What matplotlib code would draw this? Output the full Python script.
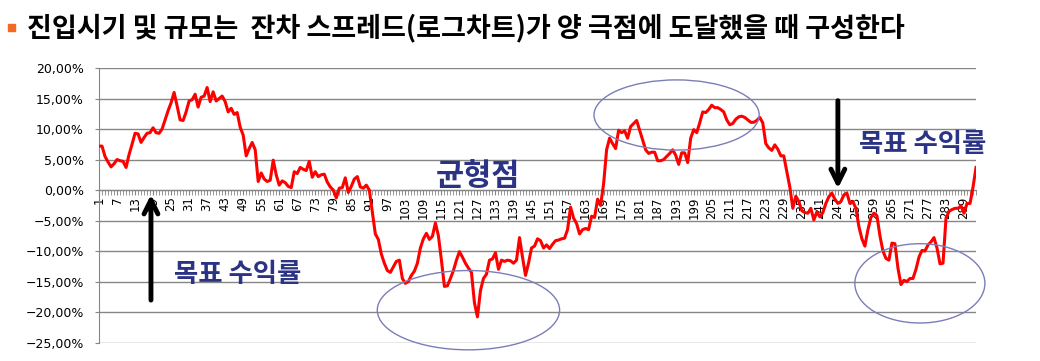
import matplotlib
matplotlib.use("Agg")
import matplotlib.pyplot as plt
from matplotlib.patches import Ellipse, Rectangle
import numpy as np

# residual spread (%), one value per period 1..293
spread = [
    7.2, 7.2, 5.5, 4.6, 3.8, 4.3, 5.0, 4.8, 4.7, 3.7,
    5.8, 7.5, 9.3, 9.2, 7.8, 8.6, 9.3, 9.4, 10.2, 9.4,
    9.3, 10.0, 11.5, 13.0, 14.3, 16.0, 13.8, 11.5, 11.4, 12.8,
    14.6, 14.8, 15.7, 13.6, 15.2, 15.4, 16.8, 14.5, 16.1, 14.6,
    15.0, 15.4, 14.5, 12.8, 13.4, 12.4, 12.7, 10.3, 9.0, 5.6,
    6.8, 7.8, 6.6, 1.4, 2.8, 1.8, 1.4, 1.6, 4.9, 2.5,
    0.8, 1.5, 1.2, 0.6, 0.4, 3.0, 2.7, 3.7, 3.4, 3.2,
    4.7, 2.1, 3.0, 2.2, 2.5, 2.6, 1.3, 0.5, 0.0, -1.3,
    0.3, 0.4, 2.0, -0.4, 0.6, 1.8, 2.2, 0.5, 0.3, 0.8,
    0.0, -3.6, -7.2, -8.1, -10.5, -12.0, -13.2, -13.5, -12.6, -11.7,
    -11.5, -14.5, -15.3, -15.0, -14.0, -13.3, -12.0, -9.5, -8.0, -7.1,
    -8.1, -7.6, -5.4, -7.5, -11.5, -15.8, -15.7, -14.5, -13.2, -11.5,
    -10.1, -11.0, -12.0, -12.8, -13.5, -18.5, -20.8, -16.5, -14.5, -13.8,
    -11.5, -11.3, -10.3, -13.0, -11.5, -11.7, -11.5, -11.6, -12.0, -11.5,
    -7.8, -11.0, -14.0, -12.0, -9.5, -9.2, -8.0, -8.3, -9.5, -9.0,
    -9.6, -8.9, -8.3, -8.2, -8.0, -7.9, -6.5, -2.8, -4.6, -5.5,
    -7.2, -6.5, -6.3, -6.5, -4.3, -4.5, -1.5, -2.5, 1.0, 6.6,
    8.5, 7.6, 6.8, 9.8, 9.4, 9.7, 8.5, 10.4, 10.9, 11.4,
    9.8, 8.2, 6.6, 6.0, 6.2, 6.2, 4.8, 4.8, 5.0, 5.5,
    6.0, 6.6, 5.7, 4.2, 6.1, 6.1, 4.5, 8.5, 9.9, 9.4,
    11.0, 12.8, 12.7, 13.2, 13.9, 13.5, 13.5, 13.2, 12.8, 11.5,
    10.7, 10.9, 11.6, 12.0, 12.1, 11.9, 11.5, 11.1, 11.1, 11.4,
    11.9, 11.0, 7.6, 6.9, 6.5, 7.4, 6.7, 5.6, 5.6, 3.0,
    0.5, -3.0, -1.0, -1.9, -3.4, -3.7, -3.8, -3.0, -4.9, -3.6,
    -4.4, -3.7, -2.2, -1.1, -0.5, -1.5, -2.2, -1.9, -0.8, -0.5,
    -2.2, -1.9, -3.0, -6.0, -8.0, -9.2, -6.5, -4.5, -3.8, -4.2,
    -7.5, -10.0, -11.2, -11.5, -8.7, -8.8, -12.8, -15.5, -14.8, -15.0,
    -14.5, -14.5, -13.0, -11.0, -9.9, -10.0, -9.0, -8.5, -7.8, -9.5,
    -12.1, -12.0, -4.6, -3.5, -3.2, -3.0, -3.0, -2.6, -3.8, -2.2,
    -2.2, 0.5, 3.7,
]
y_ticks = [20, 15, 10, 5, 0, -5, -10, -15, -20, -25]
x_tick_step = 6

title = "진입시기 및 규모는  잔차 스프레드(로그차트)가 양 극점에 도달했을 때 구성한다"
kr = ["Noto Sans CJK KR", "DejaVu Sans"]
navy = "#2B3384"
grey = "#868686"

x = np.arange(1, len(spread) + 1)

fig = plt.figure(figsize=(10.4, 3.61), dpi=100)
ax = fig.add_axes([0.0952, 0.0512, 0.8433, 0.7604])

ax.plot(x, spread, color="#FF0000", lw=2.2, zorder=3)

# spine position first: moving it resets the tick settings
for s in ["top", "right"]:
    ax.spines[s].set_visible(False)
ax.spines["bottom"].set_position(("data", 0))
ax.spines["bottom"].set_color(grey)
ax.spines["left"].set_color(grey)

ax.set_xlim(1, len(spread))
ax.set_ylim(-25, 20)

ax.set_yticks(y_ticks)
ax.set_yticklabels([f"{v:.2f}%".replace(".", ",").replace("-", "\u2212") for v in y_ticks])
ax.grid(axis="y", color=grey, lw=1)
ax.set_axisbelow(True)

major = list(range(1, len(spread) + 1, x_tick_step))
ax.set_xticks(major)
ax.set_xticklabels([str(v) for v in major])
ax.set_xticks(x, minor=True)
ax.tick_params(axis="x", which="both", direction="out", length=3.5, color=grey,
               pad=1, labelsize=8.5, labelrotation=90)
ax.tick_params(axis="y", direction="out", length=3, color=grey, pad=8, labelsize=9)

# annotations
ell = dict(fill=False, ec="#7B7DB8", lw=1, clip_on=False, zorder=4)
ax.add_patch(Ellipse((124, -19.7), 60.7, 13.0, **ell))
ax.add_patch(Ellipse((193.3, 12.3), 55, 11.5, **ell))
ax.add_patch(Ellipse((274.3, -15.3), 43.3, 13.0, **ell))

arr = dict(arrowstyle="->", lw=3.5, color="black", mutation_scale=25)
ax.annotate("", xy=(18.3, -0.3), xytext=(18.3, -18.5), arrowprops=arr)
ax.annotate("", xy=(247, -0.2), xytext=(247, 15.1), arrowprops=arr)

ax.text(47, -13.8, "목표 수익률", family=kr, fontsize=19, fontweight="bold",
        color=navy, ha="center", va="center")
ax.text(275.3, 7.4, "목표 수익률", family=kr, fontsize=19, fontweight="bold",
        color=navy, ha="center", va="center")
ax.text(127, 2.3, "균형점", family=kr, fontsize=22, fontweight="bold",
        color=navy, ha="center", va="center")

fig.patches.append(Rectangle((8 / 1040, 1 - 31 / 361), 7 / 1040, 7 / 361,
                             transform=fig.transFigure, color="#F26A21"))
fig.text(0.026, 0.922, title, family=kr, fontsize=19.5, fontweight="bold",
         va="center", ha="left")

fig.savefig("out.png", dpi=100)
